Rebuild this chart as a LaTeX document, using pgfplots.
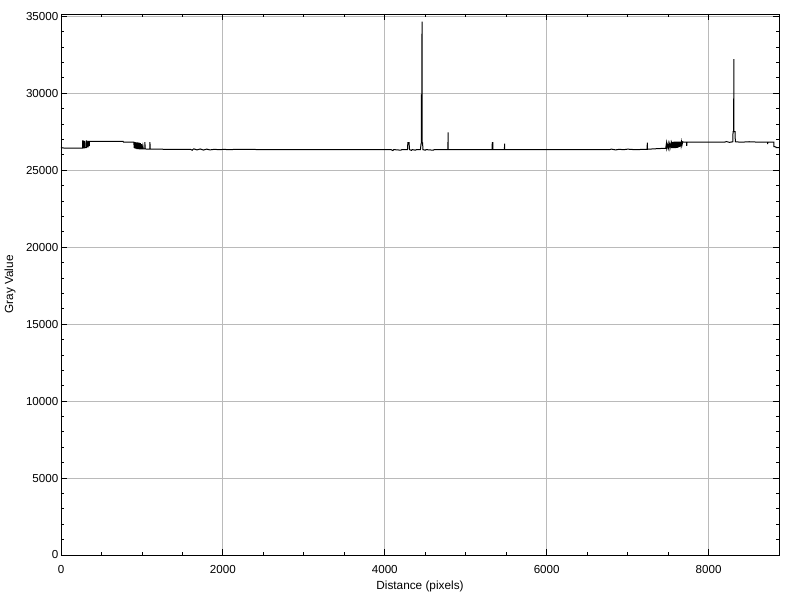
\documentclass[border=0pt,12pt]{standalone}
\usepackage{fontspec}
\setmainfont{Liberation Sans}
\usepackage{pgfplots}
\pgfplotsset{compat=1.18}
\begin{document}
\begin{tikzpicture}
\begin{axis}[
  at={(0,0)}, anchor=south west,
  scale only axis, width=718pt, height=541pt,
  xmin=0, xmax=8870, ymin=0, ymax=35150,
  xtick={0,2000,...,8000}, ytick={0,5000,...,35000},
  minor x tick num=3, minor y tick num=4,
  tick align=inside, major tick length=6pt, minor tick length=3.5pt,
  xmajorgrids, ymajorgrids,
  major grid style={color=black!27, line width=0.8pt},
  axis line style={line width=0.9pt},
  every tick/.style={black, line width=0.8pt},
  /pgf/number format/assume math mode=true,
  /pgf/number format/1000 sep={},
  scaled ticks=false,
  tick label style={font=\fontsize{11.6}{13}\selectfont},
  yticklabel style={inner xsep=2.5pt},
  xticklabel style={yshift=-6pt},
  xlabel={Distance (pixels)}, ylabel={Gray Value},
  label style={font=\fontsize{11.8}{13}\selectfont},
  xlabel style={at={(axis description cs:0.5,-0.0573)}, anchor=center},
  ylabel style={at={(axis description cs:-0.071,0.5)}, anchor=center, rotate=0},
]
\addplot[black, line width=1pt, mark=none] table {
x y
0 26520
8 26470
20 26450
60 26430
120 26440
180 26430
240 26440
266 26440
268 26900
272 26900
274 26450
288 26450
290 26880
293 26880
295 26460
312 26460
314 26900
318 26900
320 26520
334 26520
336 26880
340 26880
342 26600
350 26600
352 26880
400 26880
500 26875
600 26870
700 26870
768 26870
772 26820
900 26820
904 26450
908 26800
912 26420
916 26830
920 26400
924 26780
928 26420
932 26810
936 26380
940 26760
944 26400
948 26800
952 26370
956 26740
960 26400
964 26790
968 26360
972 26700
976 26380
980 26760
984 26350
988 26650
992 26370
996 26700
1000 26350
1004 26600
1008 26360
1012 26550
1016 26380
1035 26380
1037 26820
1039 26380
1097 26370
1099 26820
1101 26370
1300 26360
1500 26360
1600 26350
1620 26300
1640 26390
1680 26320
1720 26380
1760 26310
1800 26370
1840 26320
1900 26360
1950 26330
2000 26350
2100 26340
2180 26360
2500 26340
3000 26340
3500 26340
4000 26340
4080 26330
4100 26280
4110 26340
4200 26300
4210 26340
4280 26340
4285 26790
4300 26790
4305 26340
4330 26290
4340 26340
4380 26300
4390 26340
4440 26340
4448 26700
4451 26760
4452 29890
4458 29890
4460 34650
4462 26780
4468 26780
4470 26340
4500 26300
4510 26340
4600 26300
4610 26340
4780 26340
4782 27460
4784 26340
5000 26340
5325 26340
5328 26790
5334 26790
5337 26340
5478 26340
5480 26720
5482 26340
6000 26340
6500 26340
6780 26340
6800 26370
6850 26320
6900 26360
6950 26330
7000 26370
7100 26330
7200 26360
7241 26360
7243 26790
7245 26360
7300 26380
7400 26410
7470 26420
7480 26750
7484 26420
7500 26750
7504 26430
7520 26750
7524 26430
7540 26780
7545 26440
7550 26820
7554 26450
7558 26840
7562 26440
7566 26830
7570 26450
7574 26850
7578 26430
7582 26840
7586 26450
7590 26850
7594 26440
7598 26830
7602 26460
7606 26850
7610 26450
7614 26850
7618 26470
7622 26850
7626 26480
7630 26850
7634 26500
7638 26850
7642 26520
7646 26850
7650 26560
7654 26850
7660 26600
7666 26850
7672 26650
7680 26850
7690 26830
7728 26830
7730 26580
7734 26830
7770 26830
8000 26830
8200 26830
8220 26860
8260 26810
8300 26850
8302 27500
8310 27500
8312 32210
8314 27500
8328 27500
8330 26850
8400 26820
8500 26850
8590 26830
8700 26830
8728 26830
8730 26700
8732 26830
8806 26830
8808 26530
8830 26520
8835 26460
8870 26460
};
\end{axis}
\pgfresetboundingbox
\path (-61pt,-42pt) rectangle (738pt,555pt);
\end{tikzpicture}
\end{document}
